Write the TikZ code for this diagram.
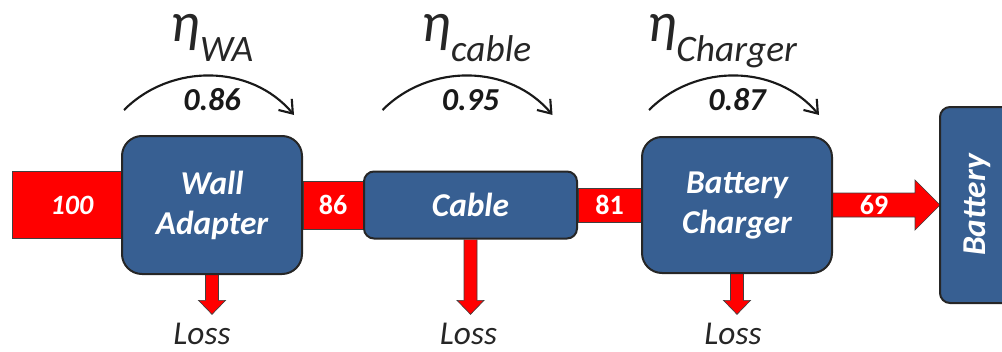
\documentclass[tikz,border=0pt]{standalone}
\usepackage{fontspec}
\setmainfont{Carlito}
\usetikzlibrary{arrows.meta, calc}
\definecolor{boxblue}{RGB}{55,95,146}
\definecolor{boxline}{RGB}{38,38,38}
\definecolor{flowred}{RGB}{255,0,0}
\pgfdeclarelayer{background}
\pgfsetlayers{background,main}
% red block arrow from a box down to its loss label
\newcommand{\lossarrow}[2]{%
  \path[flow] ($(#1.south)+(-6.5,0)$) -- ($(#1.south |- #2.north)+(-6.5,22)$)
    -- ($(#1.south |- #2.north)+(-13.5,22)$) -- ($(#1.south |- #2.north)+(0,8)$)
    -- ($(#1.south |- #2.north)+(13.5,22)$) -- ($(#1.south |- #2.north)+(6.5,22)$)
    -- ($(#1.south)+(6.5,0)$);}

\begin{document}
\begin{tikzpicture}[x=0.75pt, y=0.75pt,
    every node/.style={align=center},
    blk/.style={draw=boxline, fill=boxblue, line width=1.5pt, rounded corners=15pt,
                text=white, font=\fontsize{25}{30}\selectfont\bfseries\itshape},
    flow/.style={fill=flowred, draw=black!75, line width=0.5pt},
    flowlbl/.style={text=white, font=\fontsize{21}{21}\selectfont\bfseries},
    val/.style={font=\fontsize{24}{24}\selectfont\bfseries\itshape, text=black!90},
    eff/.style={-{Straight Barb[length=9pt, width=13pt]}, line width=1.6pt, black!90},
    loss/.style={font=\fontsize{25}{25}\selectfont\itshape, text=black!85, anchor=base, inner sep=0pt},
    eta/.style={anchor=base, inner sep=0pt, font=\itshape, text=black!85}
  ]
    \useasboundingbox (0,0) rectangle (1002,351);
    \clip (0,0) rectangle (1002,351);

    \coordinate (src) at (12,146);
    \coordinate (valrow) at (0,251);
    \coordinate (etarow) at (0,309);
    \coordinate (lossrow) at (0,7);

    % blocks
    \node[blk, minimum width=135pt, minimum height=103.5pt] (wa) at (212,146) {Wall\\Adapter};
    \node[blk, minimum width=159.75pt, minimum height=50.25pt, rounded corners=7.5pt] (cable) at (470.5,146) {Cable};
    \node[blk, minimum width=142.5pt, minimum height=102pt] (chg) at (737,146) {Battery\\Charger};
    \node[blk, minimum width=147pt, minimum height=55.5pt, rounded corners=7.5pt, rotate=90] (bat) at (977,146) {Battery};

    % loss labels
    \node[loss] (wa-loss) at ($(wa |- lossrow)+(-10,0)$) {Loss};
    \node[loss] (cable-loss) at ($(cable |- lossrow)+(-2,0)$) {Loss};
    \node[loss] (chg-loss) at ($(chg |- lossrow)+(-4,0)$) {Loss};

    % power flow
    \begin{pgfonlayer}{background}
      \path[flow] ($(src)+(0,33.5)$) rectangle ($(wa.west)+(0,-33.5)$);
      \path[flow] ($(wa.east)+(0,24)$) rectangle ($(cable.west)+(0,-24)$);
      \path[flow] ($(cable.east)+(0,17)$) rectangle ($(chg.west)+(0,-17)$);
      \path[flow] ($(chg.east)+(0,12)$) -- ($(bat.north)+(-24,12)$) -- ($(bat.north)+(-24,25)$)
        -- ($(bat.north)+(1,0)$) -- ($(bat.north)+(-24,-25)$) -- ($(bat.north)+(-24,-12)$)
        -- ($(chg.east)+(0,-12)$);
      \lossarrow{wa}{wa-loss}
      \lossarrow{cable}{cable-loss}
      \lossarrow{chg}{chg-loss}
    \end{pgfonlayer}

    \node[flowlbl, font=\fontsize{21}{21}\selectfont\bfseries\itshape] (in-val) at ($(src)!0.55!(wa.west)$) {100};
    \node[flowlbl] (wa-val) at ($(wa.east)!0.5!(cable.west)$) {86};
    \node[flowlbl] (cable-val) at ($(cable.east)!0.5!(chg.west)$) {81};
    \node[flowlbl] (chg-val) at ($(chg.east)!0.5!(bat.north)+(-12,0)$) {69};

    % efficiencies
    \node[val] (wa-eff) at (wa |- valrow) {0.86};
    \node[val] (cable-eff) at (cable |- valrow) {0.95};
    \node[val] (chg-eff) at (chg |- valrow) {0.87};

    \draw[eff] ($(wa-eff)+(-88,-10)$) to[out=45, in=130] ($(wa-eff)+(82,-15)$);
    \draw[eff] ($(cable-eff)+(-88,-10)$) to[out=45, in=130] ($(cable-eff)+(82,-15)$);
    \draw[eff] ($(chg-eff)+(-88,-10)$) to[out=45, in=130] ($(chg-eff)+(82,-15)$);

    \node[eta] (wa-eta) at (wa |- etarow)
      {{\fontsize{42}{42}\selectfont η}{\fontsize{28}{28}\selectfont\raisebox{-15pt}{WA}}};
    \node[eta] (cable-eta) at ($(cable |- etarow)+(6,0)$)
      {{\fontsize{42}{42}\selectfont η}{\fontsize{28}{28}\selectfont\raisebox{-15pt}{cable}}};
    \node[eta] (chg-eta) at ($(chg |- etarow)+(-15,0)$)
      {{\fontsize{42}{42}\selectfont η}{\fontsize{28}{28}\selectfont\raisebox{-15pt}{Charger}}};
  \end{tikzpicture}
\end{document}
